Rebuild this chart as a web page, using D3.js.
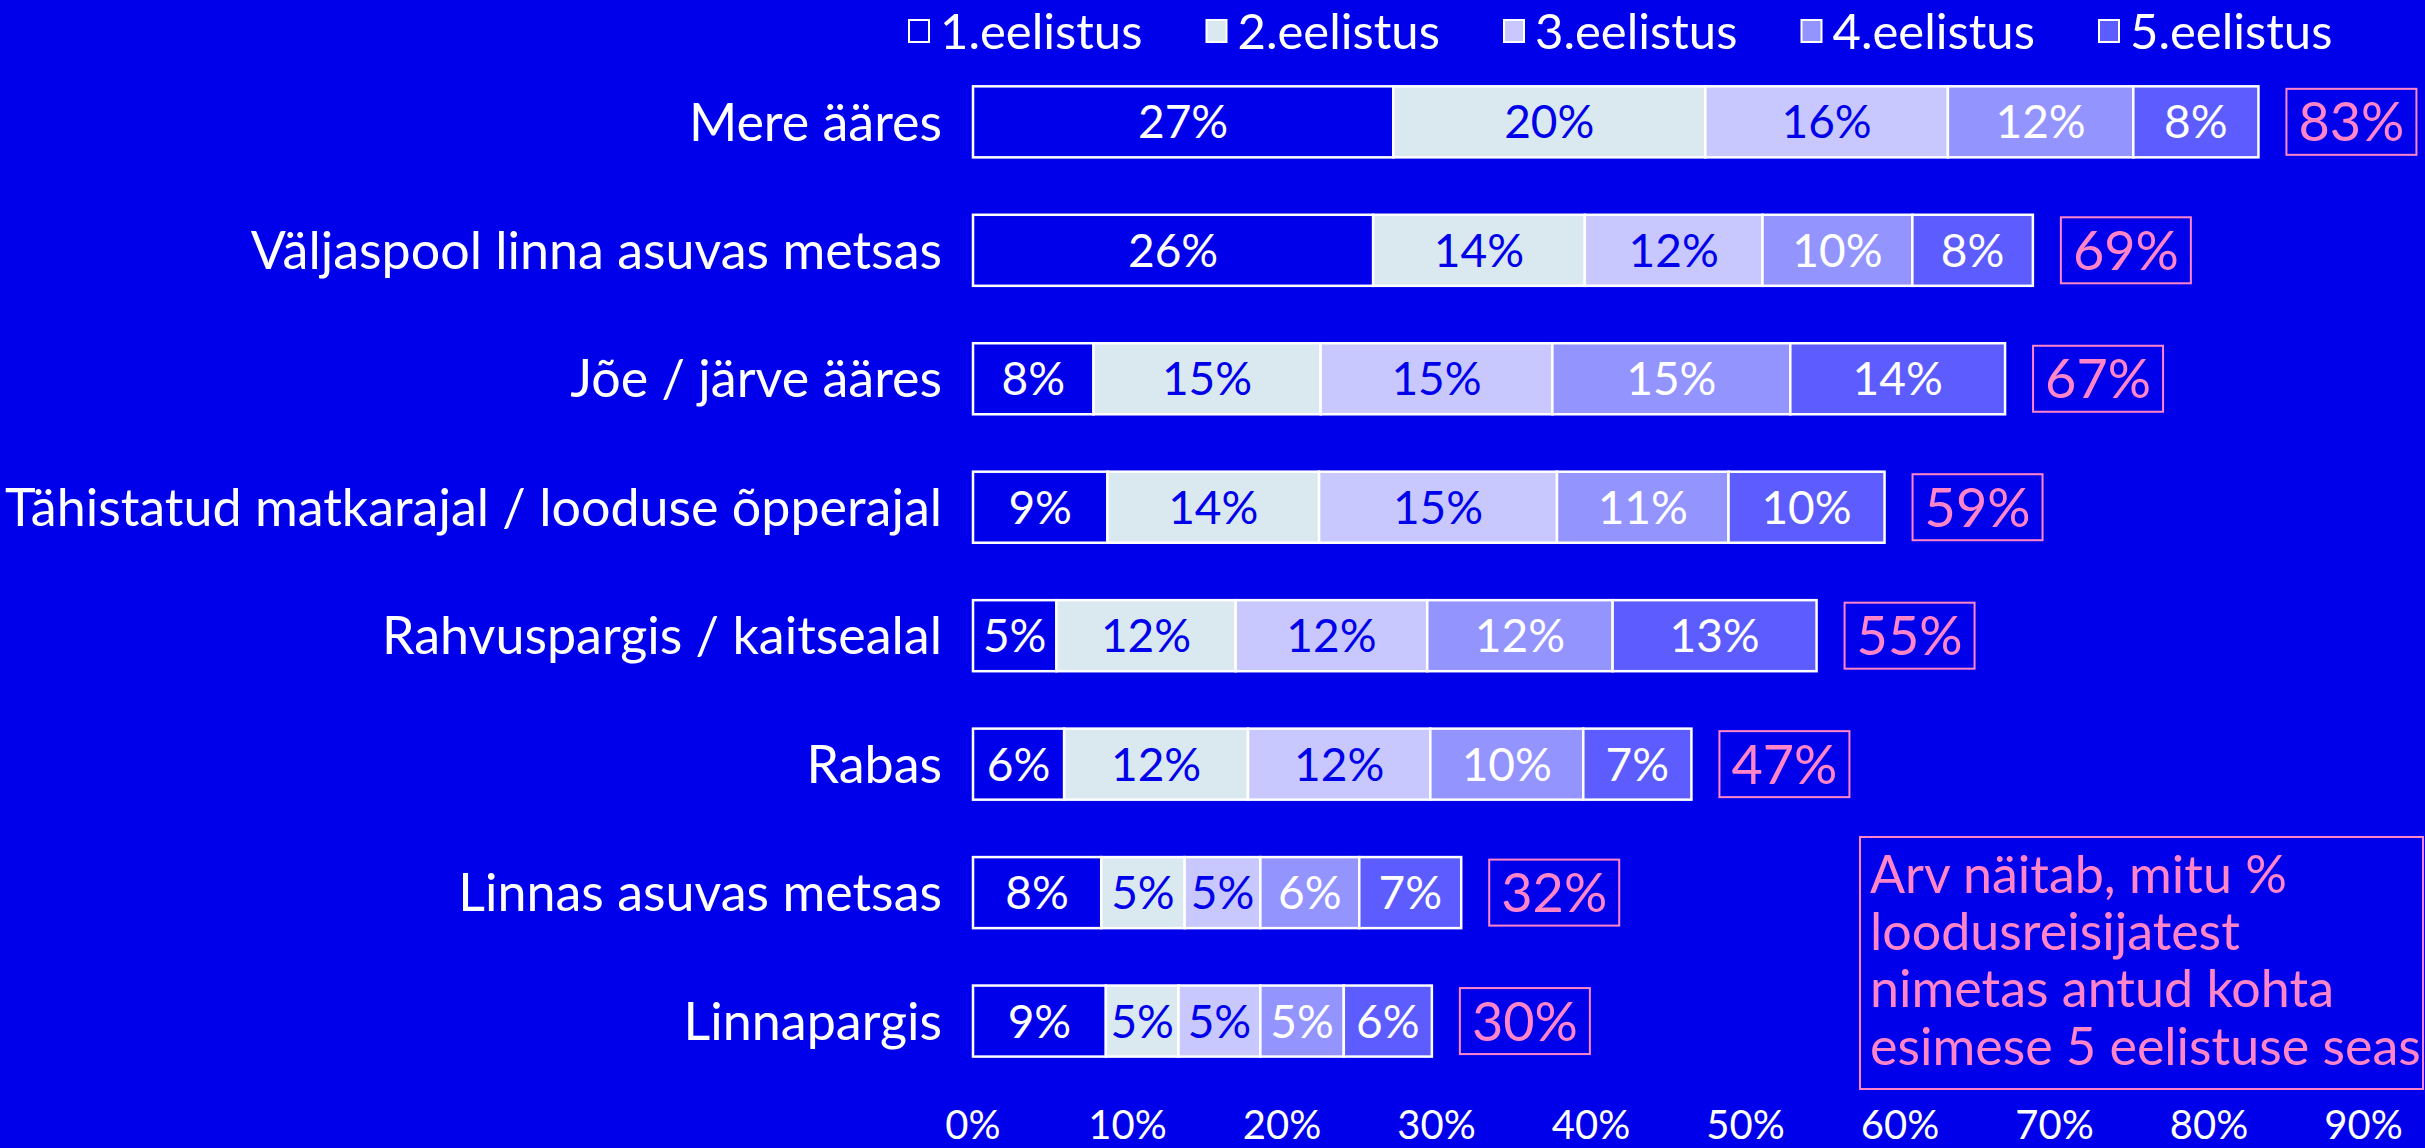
<!DOCTYPE html>
<html>
<head>
<meta charset="utf-8">
<script src="https://cdn.jsdelivr.net/npm/d3@7"></script>
<style>
  html, body { margin: 0; padding: 0; background: #0000eb; }
  svg { display: block; font-family: Lato, sans-serif; }
</style>
</head>
<body>
<script>
// categories, top to bottom
const places = [
    "Mere ääres",
    "Väljaspool linna asuvas metsas",
    "Jõe / järve ääres",
    "Tähistatud matkarajal / looduse õpperajal",
    "Rahvuspargis / kaitsealal",
    "Rabas",
    "Linnas asuvas metsas",
    "Linnapargis"
];

const prefNames = ["1.eelistus", "2.eelistus", "3.eelistus", "4.eelistus", "5.eelistus"];

// share of respondents per preference rank
const pref1 = [0.272, 0.259, 0.078, 0.087, 0.054, 0.059, 0.083, 0.086];
const pref2 = [0.202, 0.137, 0.147, 0.137, 0.116, 0.119, 0.054, 0.047];
const pref3 = [0.157, 0.115, 0.150, 0.154, 0.124, 0.118, 0.049, 0.053];
const pref4 = [0.120, 0.097, 0.154, 0.111, 0.120, 0.099, 0.064, 0.054];
const pref5 = [0.081, 0.078, 0.139, 0.101, 0.132, 0.070, 0.066, 0.057];

// named among top 5
const totals = [0.83, 0.69, 0.67, 0.59, 0.55, 0.47, 0.32, 0.30];

const xTicks = [0, 0.1, 0.2, 0.3, 0.4, 0.5, 0.6, 0.7, 0.8, 0.9];

const noteLines = [
    "Arv näitab, mitu %",
    "loodusreisijatest",
    "nimetas antud kohta",
    "esimese 5 eelistuse seas"
];

const width = 2425, height = 1148;
const blue = "#0000eb", pink = "#ff85c8";
const fills = [blue, "#dae8f0", "#c8c8ff", "#9494ff", "#5c5cff"];
const textFills = ["#fff", blue, blue, "#fff", "#fff"];

const svg = d3.select("body").append("svg")
    .attr("width", width)
    .attr("height", height);

svg.append("rect").attr("width", width).attr("height", height).attr("fill", blue);

const x = d3.scaleLinear().domain([0, 0.9]).range([973, 2363.5]);
const y = d3.scaleBand().domain(places).range([57.6, 1085.3]).paddingInner(0.447).paddingOuter(0.2235);

const rows = places.map((p, i) => {
    const vals = [pref1[i], pref2[i], pref3[i], pref4[i], pref5[i]];
    let acc = 0;
    const segs = vals.map((v, k) => {
        const s = {k: k, x0: acc, x1: acc + v, v: v};
        acc += v;
        return s;
    });
    return {place: p, total: totals[i], segs: segs, end: acc};
});

const pct = d3.format(".0%");

const row = svg.selectAll(".row").data(rows).join("g")
    .attr("class", "row")
    .attr("transform", d => `translate(0,${y(d.place)})`);

row.append("text")
    .attr("x", 942)
    .attr("y", y.bandwidth() / 2)
    .attr("dy", "0.36em")
    .attr("text-anchor", "end")
    .attr("fill", "#fff")
    .style("font-size", "52px")
    .text(d => d.place);

const seg = row.selectAll(".seg").data(d => d.segs).join("g").attr("class", "seg");

seg.append("rect")
    .attr("x", d => x(d.x0))
    .attr("width", d => x(d.x1) - x(d.x0))
    .attr("height", y.bandwidth())
    .attr("fill", d => fills[d.k])
    .attr("stroke", "#fff")
    .attr("stroke-width", 2.5);

seg.append("text")
    .attr("x", d => (x(d.x0) + x(d.x1)) / 2)
    .attr("y", y.bandwidth() / 2)
    .attr("dy", "0.36em")
    .attr("text-anchor", "middle")
    .attr("fill", d => textFills[d.k])
    .style("font-size", "46px")
    .text(d => pct(d.v));

// total boxes
const boxW = 130, boxH = 66, gap = 28;
const tot = row.append("g")
    .attr("transform", d => `translate(${x(d.end) + gap},${(y.bandwidth() - boxH) / 2})`);
tot.append("rect")
    .attr("width", boxW).attr("height", boxH)
    .attr("fill", "none").attr("stroke", pink).attr("stroke-width", 2);
tot.append("text")
    .attr("x", boxW / 2).attr("y", boxH / 2).attr("dy", "0.36em")
    .attr("text-anchor", "middle")
    .attr("fill", pink)
    .style("font-size", "54px")
    .text(d => pct(d.total));

// x axis labels, no line
svg.append("g")
    .selectAll("text").data(xTicks).join("text")
    .attr("x", d => x(d))
    .attr("y", 1139)
    .attr("text-anchor", "middle")
    .attr("fill", "#fff")
    .style("font-size", "40px")
    .text(d => pct(d));

// legend
const legend = svg.append("g").selectAll("g").data(prefNames).join("g")
    .attr("transform", (d, i) => `translate(${908 + i * 297.5},31)`);
legend.append("rect")
    .attr("x", 1).attr("y", -11).attr("width", 20).attr("height", 22)
    .attr("fill", (d, i) => fills[i])
    .attr("stroke", "#fff").attr("stroke-width", 2);
legend.append("text")
    .attr("x", 32).attr("dy", "0.36em")
    .attr("fill", "#fff")
    .style("font-size", "49px")
    .text(d => d);

// note box
const note = svg.append("g").attr("transform", "translate(1860,837)");
note.append("rect")
    .attr("width", 563).attr("height", 252)
    .attr("fill", "none").attr("stroke", pink).attr("stroke-width", 2);
note.selectAll("text").data(noteLines).join("text")
    .attr("x", 10)
    .attr("y", (d, i) => 56 + i * 57.2)
    .attr("fill", pink)
    .style("font-size", "52px")
    .text(d => d);
</script>
</body>
</html>
